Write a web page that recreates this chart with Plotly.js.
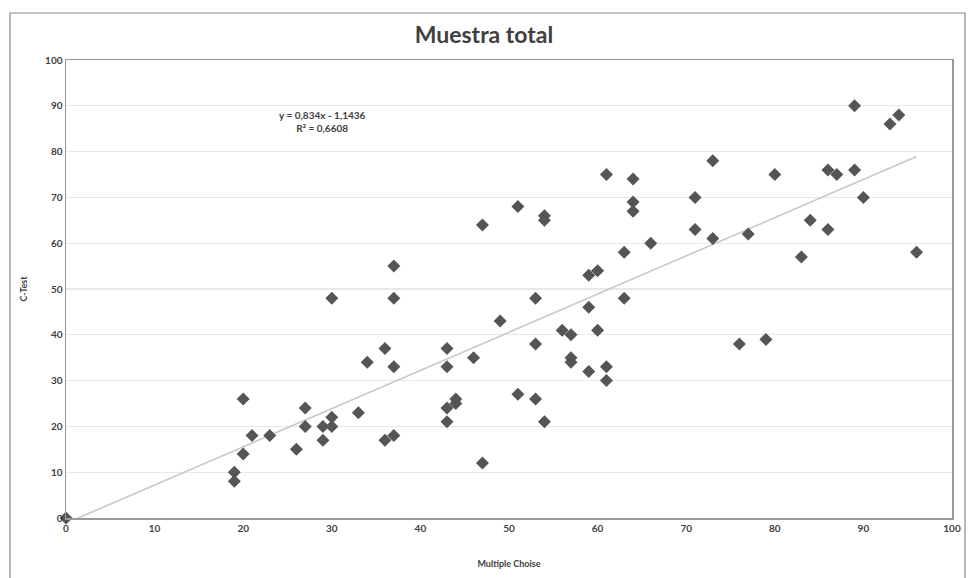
<!DOCTYPE html>
<html>
<head>
<meta charset="utf-8">
<script src="https://cdn.plot.ly/plotly-3.0.1.min.js"></script>
<style>html,body{margin:0;padding:0;background:#fff;}#chart{width:968px;height:578px;}</style>
</head>
<body>
<div id="chart"></div>
<script>
const multipleChoise = [0,19,19,20,20,21,23,26,27,27,29,29,30,30,30,33,34,36,36,37,37,37,37,
  43,43,43,43,44,44,46,47,47,49,51,51,53,53,53,54,54,54,56,57,57,57,59,59,59,60,60,61,61,61,
  63,63,64,64,64,66,71,71,73,73,76,77,79,80,83,84,86,86,87,89,89,90,93,94,96];
const cTest = [0,10,8,14,26,18,18,15,24,20,17,20,22,20,48,23,34,37,17,18,33,48,55,
  37,33,24,21,26,25,35,12,64,43,27,68,48,38,26,21,66,65,41,40,35,34,32,46,53,54,41,33,30,75,
  58,48,74,69,67,60,70,63,78,61,38,62,39,75,57,65,76,63,75,90,76,70,86,88,58];
const slope = 0.834, intercept = -1.1436;
const trendX = [0, 96];
const trendY = trendX.map(v => slope * v + intercept);
const eqText = "y = 0,834x - 1,1436<br>R² = 0,6608";
const titleText = "Muestra total";
const xTitle = "Multiple Choise";
const yTitle = "C-Test";

const font = "Lato, 'Open Sans', 'Liberation Sans', sans-serif";
const traces = [
  {x: trendX, y: trendY, mode: 'lines', type: 'scatter',
   line: {color: '#c8c8c8', width: 1.6}, hoverinfo: 'skip'},
  {x: multipleChoise, y: cTest, mode: 'markers', type: 'scatter', cliponaxis: false,
   marker: {symbol: 'diamond', size: 10, color: '#555555'}}
];
const layout = {
  width: 968, height: 578,
  margin: {l: 66, r: 16, t: 60, b: 60},
  paper_bgcolor: '#ffffff', plot_bgcolor: '#ffffff',
  showlegend: false,
  title: {text: '<b>' + titleText + '</b>', x: 0.5, xanchor: 'center', y: 0.94, yanchor: 'middle',
          font: {family: font, size: 23, color: '#404040'}},
  xaxis: {range: [0, 100], dtick: 10, showgrid: false, zeroline: false,
          showline: true, linecolor: '#999999', linewidth: 1.5, mirror: true,
          ticks: '', tickfont: {family: font, size: 10, color: '#404040', weight: 'bold'},
          title: {text: '<b>' + xTitle + '</b>', standoff: 28, font: {family: font, size: 9, color: '#404040'}}},
  yaxis: {range: [0, 100], dtick: 10, showgrid: true, gridcolor: '#e8e8e8', gridwidth: 1.2, zeroline: false,
          showline: true, linecolor: '#999999', linewidth: 1.5, mirror: true,
          ticks: '', ticklen: 0, tickfont: {family: font, size: 10, color: '#404040', weight: 'bold'},
          title: {text: '<b>' + yTitle + '</b>', standoff: 16, font: {family: font, size: 9, color: '#404040'}}},
  annotations: [{x: 29, y: 86.5, xref: 'x', yref: 'y', text: '<b>' + eqText + '</b>', showarrow: false,
                 align: 'center', font: {family: font, size: 10, color: '#404040'}}],
  shapes: [{type: 'rect', xref: 'paper', yref: 'paper', x0: -0.0632, x1: 1.0147, y0: -0.25, y1: 1.1026,
            line: {color: '#8a8a8a', width: 1.2}, fillcolor: 'rgba(0,0,0,0)', layer: 'below'}]
};
Plotly.newPlot('chart', traces, layout, {displayModeBar: false, staticPlot: true});
</script>
</body>
</html>
